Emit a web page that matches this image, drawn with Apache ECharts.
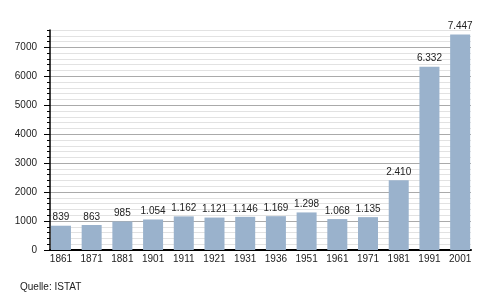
<!DOCTYPE html>
<html>
<head>
<meta charset="utf-8">
<script src="https://cdn.jsdelivr.net/npm/echarts@6/dist/echarts.min.js"></script>
<style>html,body{margin:0;padding:0;background:#fff}#c{width:500px;height:300px}</style>
</head>
<body>
<div id="c"></div>
<script>
const categories = ['1861','1871','1881','1901','1911','1921','1931','1936','1951','1961','1971','1981','1991','2001'];
const population = [839, 863, 985, 1054, 1162, 1121, 1146, 1169, 1298, 1068, 1135, 2410, 6332, 7447];
const yMax = 7600;
const sourceText = 'Quelle: ISTAT';

const FONT = "'Liberation Sans', Arial, sans-serif";
const chart = echarts.init(document.getElementById('c'), null, {renderer: 'canvas'});
const fmt = v => { const s = String(v); return s.length > 3 ? s.slice(0, s.length - 3) + '.' + s.slice(-3) : s; };

chart.setOption({
  animation: false,
  backgroundColor: '#fff',
  grid: [
    {left: 50, right: 29, top: 30, height: 220},
    {left: 45.6, right: 24.5, top: 30, height: 220}
  ],
  xAxis: [
    {type: 'category', gridIndex: 0, data: categories, boundaryGap: true,
     axisLine: {show: true, lineStyle: {color: '#000', width: 2}},
     axisTick: {show: false}, axisLabel: {show: false}, splitLine: {show: false}},
    {type: 'category', gridIndex: 1, data: categories, boundaryGap: true,
     axisLine: {show: false}, axisTick: {show: false},
     axisLabel: {show: true, margin: 4, fontSize: 10, color: '#222', fontFamily: FONT, interval: 0},
     splitLine: {show: false}}
  ],
  yAxis: [
    {type: 'value', gridIndex: 0, min: 0, max: yMax, interval: 200, position: 'left',
     axisLine: {show: false}, axisLabel: {show: false},
     axisTick: {show: true, inside: false, length: 3, lineStyle: {color: '#000', width: 1}},
     splitLine: {show: true, lineStyle: {color: ['#aaaaaa', '#e2e2e2', '#e2e2e2', '#e2e2e2', '#e2e2e2'], width: 1}}},
    {type: 'value', gridIndex: 0, min: 0, max: yMax, interval: 1000, position: 'left',
     axisLine: {show: true, lineStyle: {color: '#000', width: 1.5}},
     axisTick: {show: true, length: 6, lineStyle: {color: '#000', width: 1}},
     axisLabel: {show: true, margin: 13, fontSize: 10, color: '#222', fontFamily: FONT,
                 showMaxLabel: false, formatter: v => String(v)},
     splitLine: {show: false}},
    {type: 'value', gridIndex: 1, min: 0, max: yMax, show: false, splitLine: {show: false}}
  ],
  series: [{
    type: 'bar', xAxisIndex: 1, yAxisIndex: 2, data: population, barWidth: 20,
    itemStyle: {color: '#9ab2cc'},
    label: {show: true, position: 'top', distance: 3, fontSize: 10, color: '#222', fontFamily: FONT,
            formatter: p => fmt(p.value)}
  }],
  graphic: [{type: 'text', left: 20, top: 282, style: {text: sourceText, fontSize: 10, fill: '#222', fontFamily: FONT}}]
});
</script>
</body>
</html>
